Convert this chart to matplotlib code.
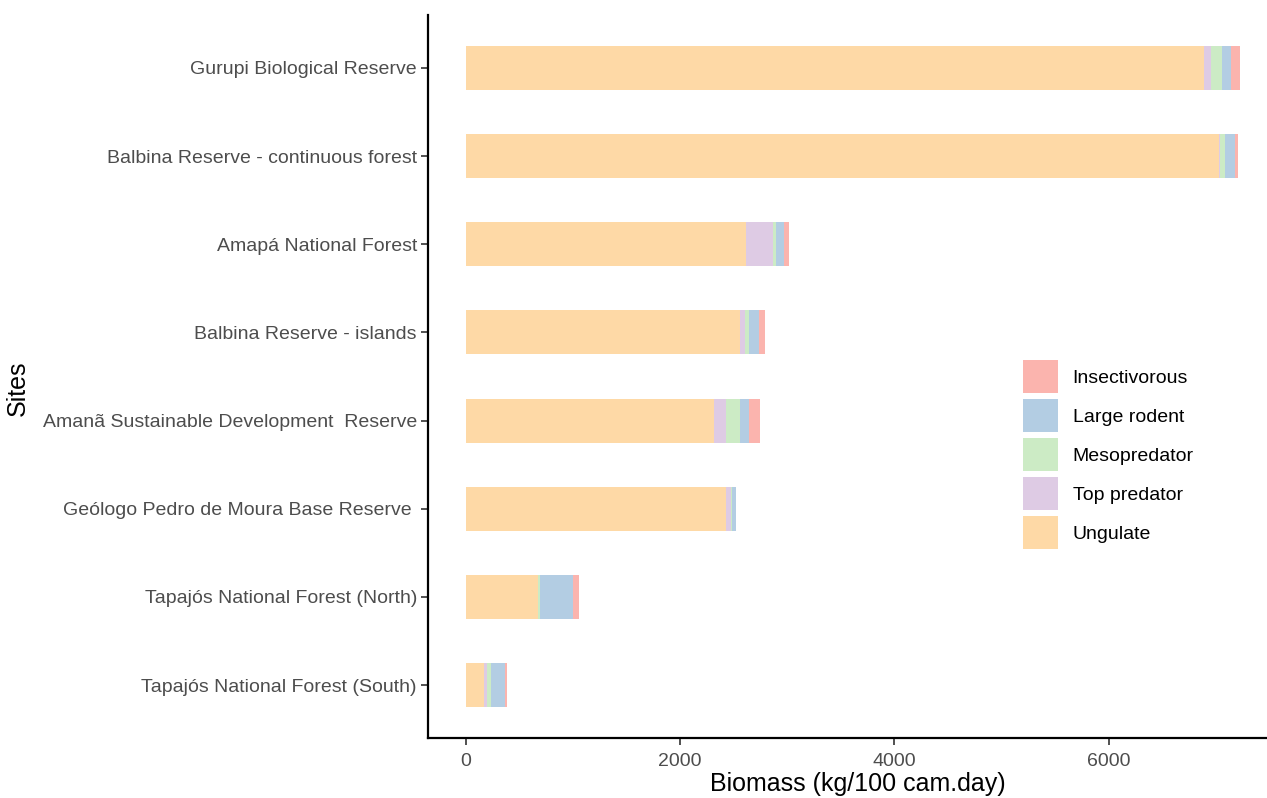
import numpy as np
import matplotlib.pyplot as plt

plt.rcParams['font.family'] = ['Liberation Sans', 'DejaVu Sans']

# Sites, listed bottom to top
sites = [
    "Tapajós National Forest (South)",
    "Tapajós National Forest (North)",
    "Geólogo Pedro de Moura Base Reserve ",
    "Amanã Sustainable Development  Reserve",
    "Balbina Reserve - islands",
    "Amapá National Forest",
    "Balbina Reserve - continuous forest",
    "Gurupi Biological Reserve",
]

# Biomass per guild (kg/100 cam.day), same order as sites
ungulate      = [170, 672, 2425, 2313, 2558, 2611, 7023, 6884]
top_predator  = [31, 0, 47, 112, 43, 257, 10, 65]
mesopredator  = [37, 25, 10, 133, 43, 25, 46, 102]
large_rodent  = [133, 300, 40, 81, 93, 74, 102, 84]
insectivorous = [16, 62, 0, 105, 56, 46, 25, 84]

guilds = ["Ungulate", "Top predator", "Mesopredator", "Large rodent", "Insectivorous"]
colors = ["#FED9A6", "#DECBE4", "#CCEBC5", "#B3CDE3", "#FBB4AE"]
values = [ungulate, top_predator, mesopredator, large_rodent, insectivorous]

W, H = 1267, 798
fig = plt.figure(figsize=(W / 100, H / 100), dpi=100)
# panel runs a little past the right edge of the figure
ax = fig.add_axes([428 / W, 1 - 738 / H, 860 / W, 723 / H])

y = np.arange(1, len(sites) + 1)
left = np.zeros(len(sites))
handles = []
for name, vals, col in zip(guilds, values, colors):
    h = ax.barh(y, vals, left=left, height=0.5, color=col, label=name)
    handles.append(h)
    left += np.array(vals)

ax.set_xlim(-352, 7671)
ax.set_ylim(0.4, 8.6)
ax.set_xticks([0, 2000, 4000, 6000])
ax.set_yticks(y)
ax.set_yticklabels(sites)

for side in ["top", "right"]:
    ax.spines[side].set_visible(False)
for side in ["left", "bottom"]:
    ax.spines[side].set_linewidth(1.6)
    ax.spines[side].set_color("black")

ax.tick_params(axis="both", length=5, width=1.2, color="#333333",
               labelcolor="#4D4D4D", labelsize=14, pad=3)
ax.tick_params(axis="x", pad=6)

ax.set_xlabel("Biomass (kg/100 cam.day)", fontsize=18, color="black", labelpad=1)
ax.set_ylabel("Sites", fontsize=18, color="black")
ax.yaxis.set_label_coords(-0.463, 0.484)

leg = fig.legend(handles[::-1], guilds[::-1], loc="upper left",
                 bbox_to_anchor=(1023 / W, 1 - 360 / H), frameon=False,
                 fontsize=14, handlelength=1.8, handleheight=2.25,
                 labelspacing=0.3, handletextpad=0.75, borderpad=0,
                 borderaxespad=0)

fig.savefig("out.png", dpi=100)
